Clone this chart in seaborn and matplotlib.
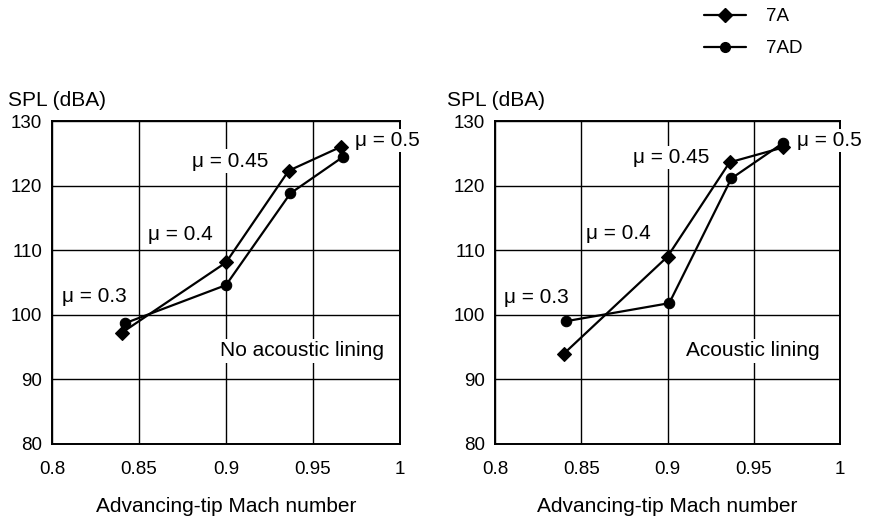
import matplotlib
matplotlib.use("Agg")
import matplotlib.pyplot as plt
from matplotlib.lines import Line2D
import seaborn as sns
import pandas as pd

# ---- data ----
mach_7a_left = [0.840, 0.900, 0.936, 0.966]
spl_7a_left = [97.2, 108.1, 122.3, 126.0]
mach_7ad_left = [0.842, 0.900, 0.937, 0.967]
spl_7ad_left = [98.7, 104.6, 118.8, 124.4]

mach_7a_right = [0.840, 0.900, 0.936, 0.967]
spl_7a_right = [94.0, 109.0, 123.6, 125.9]
mach_7ad_right = [0.841, 0.901, 0.937, 0.967]
spl_7ad_right = [99.0, 101.8, 121.1, 126.6]

rotors = ["7A", "7AD"]
panel_titles = ["No acoustic lining", "Acoustic lining"]
x_ticks = [0.8, 0.85, 0.9, 0.95, 1.0]
x_ticklabels = ["0.8", "0.85", "0.9", "0.95", "1"]
y_ticks = [80, 90, 100, 110, 120, 130]
mu_labels = ["μ = 0.3", "μ = 0.4", "μ = 0.45", "μ = 0.5"]

def frame(m7a, s7a, m7ad, s7ad):
    return pd.DataFrame({
        "mach": m7a + m7ad,
        "spl": s7a + s7ad,
        "rotor": ["7A"] * len(m7a) + ["7AD"] * len(m7ad),
    })

frames = [frame(mach_7a_left, spl_7a_left, mach_7ad_left, spl_7ad_left),
          frame(mach_7a_right, spl_7a_right, mach_7ad_right, spl_7ad_right)]

# label anchor positions (data coords)
mu_pos = [
    [(0.8057, 102.8), (0.855, 112.5), (0.8805, 123.8), (0.974, 127.0)],
    [(0.805, 102.7), (0.853, 112.6), (0.880, 124.3), (0.975, 127.0)],
]
panel_pos = [(0.8966, 94.4), (0.911, 94.4)]

sns.set_style("white")
plt.rcParams["font.family"] = ["Liberation Sans", "DejaVu Sans"]
plt.rcParams["text.color"] = "black"
plt.rcParams["axes.labelcolor"] = "black"
FS = 13.5
FT = 15

fig = plt.figure(figsize=(8.71, 5.29), dpi=100)
axes = [fig.add_axes([52 / 871, 85 / 529, 348 / 871, 323 / 529]),
        fig.add_axes([495 / 871, 85 / 529, 345 / 871, 323 / 529])]

for i, ax in enumerate(axes):
    sns.lineplot(data=frames[i], x="mach", y="spl", hue="rotor", style="rotor",
                 markers={"7A": "D", "7AD": "o"}, dashes=False,
                 palette={"7A": "black", "7AD": "black"}, sort=False,
                 markersize=7.5, markeredgecolor="black", markeredgewidth=0.8,
                 linewidth=1.6, ax=ax, zorder=5, legend=False)
    ax.set_xlim(0.8, 1.0)
    ax.set_ylim(80, 130)
    ax.set_xticks(x_ticks)
    ax.set_xticklabels(x_ticklabels)
    ax.set_yticks(y_ticks)
    ax.grid(True, color="black", linewidth=1.0)
    for sp in ax.spines.values():
        sp.set_color("black")
        sp.set_linewidth(1.4)
    ax.tick_params(direction="out", length=4, width=1.2, labelsize=FS, colors="black", pad=3)
    ax.tick_params(axis="x", pad=8)
    ax.set_xlabel("Advancing-tip Mach number", fontsize=FT, labelpad=14)
    ax.set_ylabel("")
    for lab, (x, y) in zip(mu_labels, mu_pos[i]):
        ax.text(x, y, lab, fontsize=FT, ha="left", va="center", clip_on=False, zorder=6,
                bbox=dict(facecolor="white", edgecolor="none", pad=1.5))
    px, py = panel_pos[i]
    ax.text(px, py, panel_titles[i], fontsize=FT, ha="left", va="center", zorder=6,
            bbox=dict(facecolor="white", edgecolor="none", pad=2))

fig.text(8 / 871, 1 - 100 / 529, "SPL (dBA)", fontsize=FT, ha="left", va="center")
fig.text(447 / 871, 1 - 100 / 529, "SPL (dBA)", fontsize=FT, ha="left", va="center")

handles = [Line2D([], [], color="black", marker="D", markersize=7, linewidth=1.6),
           Line2D([], [], color="black", marker="o", markersize=7, linewidth=1.6)]
fig.legend(handles, rotors, loc="upper left", bbox_to_anchor=(693 / 871, 1.006),
           frameon=False, fontsize=FS, handlelength=2.2, handletextpad=1.1,
           labelspacing=0.8, borderaxespad=0.2)

fig.savefig("out.png", dpi=100)
